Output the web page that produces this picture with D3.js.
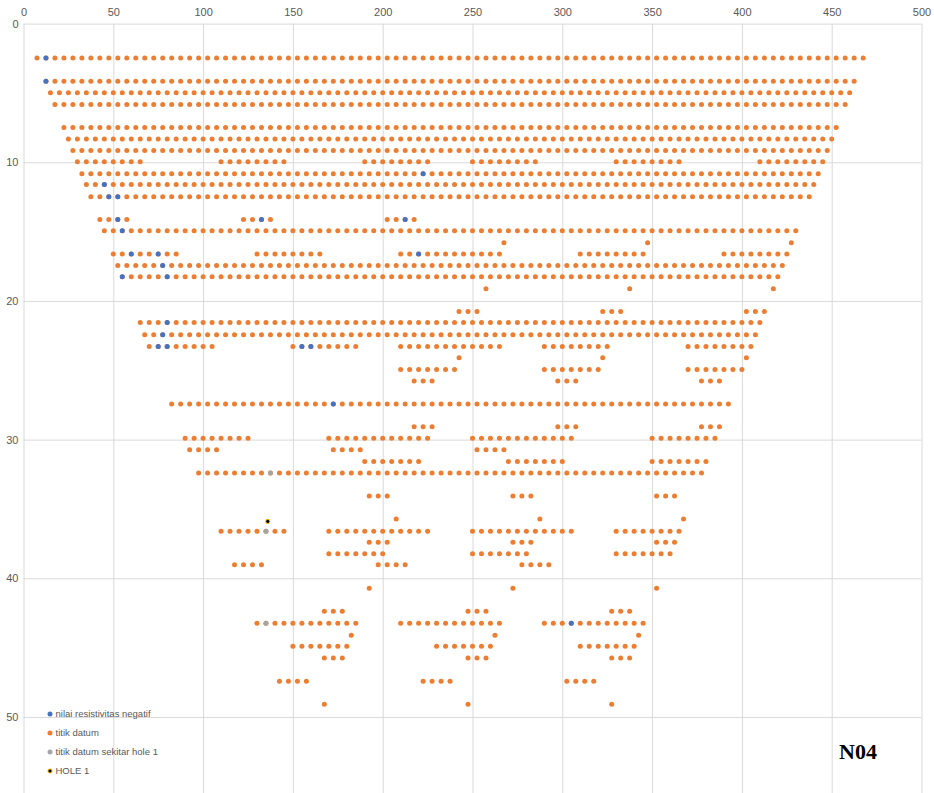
<!DOCTYPE html>
<html>
<head>
<meta charset="utf-8">
<script src="https://cdn.jsdelivr.net/npm/d3@7/dist/d3.min.js"></script>
<style>
  html, body { margin: 0; padding: 0; background: #fff; }
  svg { display: block; }
  .tick text { font-family: "Liberation Sans", Arial, sans-serif; font-size: 11px; fill: #595959; }
</style>
</head>
<body>
<svg id="chart" width="934" height="793"></svg>
<script>
// Electrode grid spacing along the line (m)
const spacing = 5;

// Pseudo-depth of each datum level
const depths = [
  2.48, 4.15, 4.99, 5.83, 7.49, 8.32, 9.15, 9.97, 10.82, 11.61,
  12.48, 14.12, 14.94, 15.8, 16.62, 17.44, 18.25, 19.12, 20.77, 21.56,
  22.43, 23.29, 24.09, 24.95, 25.77, 27.43, 29.08, 29.9, 30.74, 31.58,
  32.4, 34.06, 35.72, 36.6, 37.4, 38.24, 39.03, 40.71, 42.37, 43.24,
  44.1, 44.9, 45.74, 47.42, 49.08
];

// Runs of datum points on each level: [first x, last x] on the 5 m grid
const levelRuns = [
  [[7.5, 467.5]],
  [[12.5, 462.5]],
  [[15, 460]],
  [[17.5, 457.5]],
  [[22.5, 452.5]],
  [[25, 450]],
  [[27.5, 447.5]],
  [[30, 65], [110, 145], [190, 225], [250, 285], [330, 365], [410, 445]],
  [[32.5, 442.5]],
  [[35, 440]],
  [[37.5, 437.5]],
  [[42.5, 57.5], [122.5, 137.5], [202.5, 217.5]],
  [[45, 430]],
  [[267.5, 267.5], [347.5, 347.5], [427.5, 427.5]],
  [[50, 85], [130, 165], [210, 265], [310, 345], [390, 425]],
  [[52.5, 422.5]],
  [[55, 420]],
  [[257.5, 257.5], [337.5, 337.5], [417.5, 417.5]],
  [[242.5, 252.5], [322.5, 332.5], [402.5, 412.5]],
  [[65, 410]],
  [[67.5, 407.5]],
  [[70, 105], [150, 185], [210, 265], [290, 325], [370, 405]],
  [[242.5, 242.5], [322.5, 322.5], [402.5, 402.5]],
  [[210, 240], [290, 320], [370, 400]],
  [[217.5, 227.5], [297.5, 307.5], [377.5, 387.5]],
  [[82.5, 392.5]],
  [[217.5, 227.5], [297.5, 307.5], [377.5, 387.5]],
  [[90, 125], [170, 225], [250, 305], [350, 385]],
  [[92.5, 107.5], [172.5, 187.5], [252.5, 267.5]],
  [[190, 220], [270, 300], [350, 380]],
  [[97.5, 377.5]],
  [[192.5, 202.5], [272.5, 282.5], [352.5, 362.5]],
  [[207.5, 207.5], [287.5, 287.5], [367.5, 367.5]],
  [[110, 145], [170, 225], [250, 305], [330, 365]],
  [[192.5, 202.5], [272.5, 282.5], [352.5, 362.5]],
  [[170, 200], [250, 280], [330, 360]],
  [[117.5, 132.5], [197.5, 212.5], [277.5, 292.5]],
  [[192.5, 192.5], [272.5, 272.5], [352.5, 352.5]],
  [[167.5, 177.5], [247.5, 257.5], [327.5, 337.5]],
  [[130, 185], [210, 265], [290, 345]],
  [[182.5, 182.5], [262.5, 262.5], [342.5, 342.5]],
  [[150, 180], [230, 260], [310, 340]],
  [[167.5, 177.5], [247.5, 257.5], [327.5, 337.5]],
  [[142.5, 157.5], [222.5, 237.5], [302.5, 317.5]],
  [[167.5, 167.5], [247.5, 247.5], [327.5, 327.5]]
];

// Negative apparent resistivity points [x, depth]
const negativeX = [12.5, 12.5, 222.5, 45, 47.5, 52.5, 52.5, 132.5, 212.5, 55, 60, 75, 220, 77.5, 55, 80, 80, 77.5, 75, 80, 155, 160, 172.5, 305];
const negativeY = [2.48, 4.15, 10.82, 11.61, 12.48, 12.48, 14.12, 14.12, 14.12, 14.94, 16.62, 16.62, 16.62, 17.44, 18.25, 18.25, 21.56, 22.43, 23.29, 23.29, 23.29, 23.29, 27.43, 43.24];

// Datum points around hole 1
const nearHoleX = [137.5, 135, 135];
const nearHoleY = [32.4, 36.6, 43.24];

// Hole 1 location
const holeX = [136];
const holeY = [35.9];

const xTicks = [0, 50, 100, 150, 200, 250, 300, 350, 400, 450, 500];
const yTicks = [0, 10, 20, 30, 40, 50];

const legendLabels = ["nilai resistivitas negatif", "titik datum", "titik datum sekitar hole 1", "HOLE 1"];

const colors = { negative: "#4472C4", datum: "#ED7D31", nearHole: "#A5A5A5", hole: "#000000", holeRing: "#FFC000", grid: "#D9D9D9" };

const W = 934, H = 793;
const svg = d3.select("#chart");

const x = d3.scaleLinear().domain([0, 500]).range([23.5, 921.5]);
const y = d3.scaleLinear().domain([0, 60]).range([23.6, 23.6 + 60 * 13.867]);

// Gridlines + tick labels (x axis on top, depth axis increasing downward)
const xAxis = svg.append("g")
  .attr("transform", `translate(0,${y(0)})`)
  .call(d3.axisTop(x).tickValues(xTicks).tickSize(-(H - y(0))).tickPadding(7.5).tickFormat(d3.format("d")));
const yAxis = svg.append("g")
  .attr("transform", `translate(${x(0)},0)`)
  .call(d3.axisLeft(y).tickValues(yTicks).tickSize(-(x(500) - x(0))).tickPadding(5).tickFormat(d3.format("d")));
[xAxis, yAxis].forEach(a => {
  a.select(".domain").remove();
  a.selectAll(".tick line").attr("stroke", colors.grid).attr("stroke-width", 1);
});

// Expand runs into datum points
const datum = [];
levelRuns.forEach((runs, i) => {
  runs.forEach(([a, b]) => {
    for (let v = a; v <= b + 1e-6; v += spacing) datum.push([v, depths[i]]);
  });
});

const r = 2.5;
svg.append("g").selectAll("circle").data(datum).join("circle")
  .attr("cx", d => x(d[0])).attr("cy", d => y(d[1])).attr("r", r)
  .attr("fill", colors.datum);

svg.append("g").selectAll("circle").data(nearHoleX.map((v, i) => [v, nearHoleY[i]])).join("circle")
  .attr("cx", d => x(d[0])).attr("cy", d => y(d[1])).attr("r", r)
  .attr("fill", colors.nearHole);

svg.append("g").selectAll("circle").data(negativeX.map((v, i) => [v, negativeY[i]])).join("circle")
  .attr("cx", d => x(d[0])).attr("cy", d => y(d[1])).attr("r", r)
  .attr("fill", colors.negative);

svg.append("g").selectAll("circle").data(holeX.map((v, i) => [v, holeY[i]])).join("circle")
  .attr("cx", d => x(d[0])).attr("cy", d => y(d[1])).attr("r", 2.1)
  .attr("fill", colors.hole).attr("stroke", colors.holeRing).attr("stroke-width", 1);

// Legend
const legendColors = [colors.negative, colors.datum, colors.nearHole, colors.hole];
const lg = svg.append("g").attr("transform", "translate(50,714)");
legendLabels.forEach((t, i) => {
  const row = lg.append("g").attr("transform", `translate(0,${i * 19})`);
  const c = row.append("circle").attr("r", i === 3 ? 2.1 : 2.5).attr("fill", legendColors[i]);
  if (i === 3) c.attr("stroke", colors.holeRing).attr("stroke-width", 1);
  row.append("text").attr("x", 5.5).attr("y", 3.3)
    .attr("font-family", "Liberation Sans, Arial, sans-serif").attr("font-size", 9.5)
    .attr("fill", "#595959").text(t);
});

// Line label
svg.append("text").attr("x", 839).attr("y", 759)
  .attr("font-family", "Liberation Serif, Times New Roman, serif").attr("font-weight", "bold")
  .attr("font-size", 22).attr("fill", "#000").text("N04");
</script>
</body>
</html>
